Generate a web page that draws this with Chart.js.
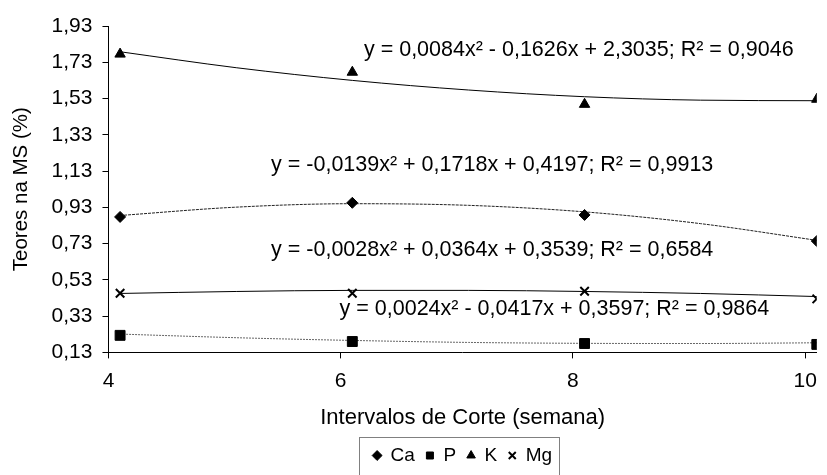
<!DOCTYPE html>
<html>
<head>
<meta charset="utf-8">
<script src="https://cdn.jsdelivr.net/npm/chart.js@4.4.1/dist/chart.umd.min.js"></script>
<style>
  html, body { margin: 0; padding: 0; background: #fff; }
  #wrap { width: 827px; height: 475px; }
</style>
</head>
<body>
<div id="wrap"><canvas id="chart"></canvas></div>
<script>
// semanas de corte (no gráfico original os pontos ficam um pouco à direita das marcas)
const weeks = [4.1, 6.1, 8.1, 10.1];
const ca = [0.877, 0.955, 0.888, 0.744];
const p  = [0.224, 0.190, 0.179, 0.174];
const k  = [1.775, 1.675, 1.498, 1.526];
const mg = [0.456, 0.456, 0.467, 0.425];

// linhas de tendência (polinomial 2ª ordem)
const trendWeeks = [4.1, 5.1, 6.1, 7.1, 8.1, 9.1, 10.1];
const caTrend = [0.885, 0.931, 0.950, 0.941, 0.905, 0.840, 0.748];
const pTrend  = [0.231, 0.211, 0.196, 0.185, 0.180, 0.179, 0.183];
const kTrend  = [1.788, 1.700, 1.630, 1.577, 1.540, 1.521, 1.518];
const mgTrend = [0.455, 0.466, 0.472, 0.472, 0.466, 0.455, 0.438];

const yTicks = [0.13, 0.33, 0.53, 0.73, 0.93, 1.13, 1.33, 1.53, 1.73, 1.93];
const xTicks = [4, 6, 8, 10];

const equations = [
  "y = 0,0084x² - 0,1626x + 2,3035; R² = 0,9046",
  "y = -0,0139x² + 0,1718x + 0,4197; R² = 0,9913",
  "y = -0,0028x² + 0,0364x + 0,3539; R² = 0,6584",
  "y = 0,0024x² - 0,0417x + 0,3597; R² = 0,9864"
];

const FONT = '"Liberation Sans", Arial, sans-serif';
const pts = (xs, ys) => xs.map((x, i) => ({ x: x, y: ys[i] }));

// posição das equações (unidades dos eixos)
const eqPos = [
  { x: 6.2, y: 1.797 },
  { x: 5.4, y: 1.165 },
  { x: 5.4, y: 0.695 },
  { x: 5.99, y: 0.368 }
];

const equationLabels = {
  id: 'equationLabels',
  afterDatasetsDraw(chart) {
    const { ctx, scales } = chart;
    ctx.save();
    ctx.font = '21.5px ' + FONT;
    ctx.fillStyle = '#000';
    ctx.textBaseline = 'middle';
    ctx.textAlign = 'left';
    equations.forEach((txt, i) => {
      ctx.fillText(txt, scales.x.getPixelForValue(eqPos[i].x), scales.y.getPixelForValue(eqPos[i].y));
    });
    ctx.restore();
  }
};

// legenda centrada sob a área do gráfico + moldura pontilhada
const legendFrame = {
  id: 'legendFrame',
  afterLayout(chart) {
    chart.legend.left = chart.chartArea.left;
    chart.legend.right = chart.chartArea.right;
  },
  afterDraw(chart) {
    const boxes = chart.legend.legendHitBoxes;
    if (!boxes || !boxes.length) return;
    const left = Math.min(...boxes.map(b => b.left)) - 14;
    const right = Math.max(...boxes.map(b => b.left + b.width)) + 7;
    const top = Math.min(...boxes.map(b => b.top)) - 9;
    const bottom = Math.max(...boxes.map(b => b.top + b.height)) + 20;
    const ctx = chart.ctx;
    ctx.save();
    ctx.strokeStyle = '#000';
    ctx.lineWidth = 1;
    ctx.setLineDash([1, 1]);
    ctx.strokeRect(Math.round(left) + 0.5, Math.round(top) + 0.5, Math.round(right - left), Math.round(bottom - top));
    ctx.restore();
  }
};

const trendStyle = (data, color, dash) => ({
  data: data,
  showLine: true,
  borderColor: color,
  borderWidth: 1,
  borderDash: dash,
  pointRadius: 0,
  tension: 0.4,
  cubicInterpolationMode: 'monotone',
  fill: false
});

new Chart(document.getElementById("chart"), {
  type: 'scatter',
  data: {
    datasets: [
      { label: "Ca", data: pts(weeks, ca), pointStyle: 'rectRot', pointRadius: 5.5, backgroundColor: '#000', borderColor: '#000', borderWidth: 1 },
      { label: "P", data: pts(weeks, p), pointStyle: 'rect', pointRadius: 7, backgroundColor: '#000', borderColor: '#000', borderWidth: 1 },
      { label: "K", data: pts(weeks, k), pointStyle: 'triangle', pointRadius: 6, backgroundColor: '#000', borderColor: '#000', borderWidth: 1 },
      { label: "Mg", data: pts(weeks, mg), pointStyle: 'crossRot', pointRadius: 6, backgroundColor: '#000', borderColor: '#000', borderWidth: 2 },
      Object.assign({ label: "tCa" }, trendStyle(pts(trendWeeks, caTrend), '#222', [3, 1])),
      Object.assign({ label: "tP" }, trendStyle(pts(trendWeeks, pTrend), '#666', [2, 1])),
      Object.assign({ label: "tK" }, trendStyle(pts(trendWeeks, kTrend), '#000', [])),
      Object.assign({ label: "tMg" }, trendStyle(pts(trendWeeks, mgTrend), '#000', []))
    ]
  },
  options: {
    responsive: true,
    maintainAspectRatio: false,
    animation: false,
    layout: { padding: { top: 26, right: 5, left: 9, bottom: 0 } },
    plugins: {
      tooltip: { enabled: false },
      legend: {
        position: 'bottom',
        labels: {
          filter: item => item.datasetIndex < 4,
          usePointStyle: true,
          boxWidth: 8,
          boxHeight: 7,
          padding: 11,
          color: '#000',
          font: { family: FONT, size: 19 }
        }
      }
    },
    scales: {
      x: {
        type: 'linear',
        min: 4,
        max: 10.1,
        afterBuildTicks: axis => { axis.ticks = xTicks.map(v => ({ value: v })); },
        ticks: { color: '#000', font: { family: FONT, size: 21 }, padding: 10, callback: v => String(v) },
        grid: { drawOnChartArea: false, drawTicks: true, tickLength: 6, color: '#000' },
        border: { color: '#000', width: 1 },
        title: { display: true, text: 'Intervalos de Corte (semana)', color: '#000', font: { family: FONT, size: 22 }, padding: { top: 1, bottom: 4 } }
      },
      y: {
        min: 0.13,
        max: 1.93,
        afterBuildTicks: axis => { axis.ticks = yTicks.map(v => ({ value: v })); },
        ticks: { color: '#000', font: { family: FONT, size: 21 }, padding: 10, callback: v => v.toFixed(2).replace('.', ',') },
        grid: { drawOnChartArea: false, drawTicks: true, tickLength: 6, color: '#000' },
        border: { color: '#000', width: 1 },
        title: { display: true, text: 'Teores na MS (%)', color: '#000', font: { family: FONT, size: 20.5 }, padding: { top: 0, bottom: 8 } }
      }
    }
  },
  plugins: [equationLabels, legendFrame]
});
</script>
</body>
</html>
